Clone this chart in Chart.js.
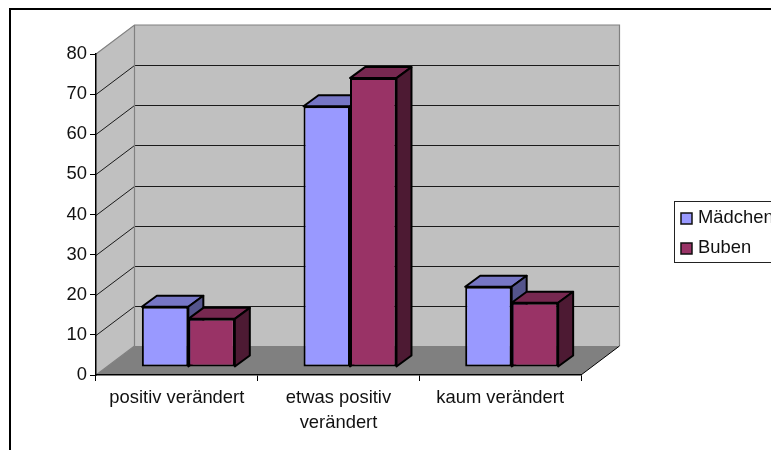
<!DOCTYPE html>
<html>
<head>
<meta charset="utf-8">
<title>Veränderung</title>
<script src="https://cdn.jsdelivr.net/npm/chart.js@4"></script>
<style>
  html, body { margin: 0; padding: 0; background: #fff; overflow: hidden; }
  canvas { display: block; }
</style>
</head>
<body>
<canvas id="myChart" width="771" height="450"></canvas>
<script>
const categories = ['positiv verändert', ['etwas positiv', 'verändert'], 'kaum verändert']
const maedchen = [15, 65, 20]
const buben = [12, 72, 16]
const yTicks = [0, 10, 20, 30, 40, 50, 60, 70, 80]

const FONT = '"Liberation Sans", Arial, sans-serif'
const FONT_SIZE = 18.4
const TEXT = '#111'

// versatz der rueckwand und der balkentiefe
const wall = { dx: 38.5, dy: 29 }
const barShift = { dx: 11.5, dy: 8 }
const barDepth = { dx: 15, dy: 11 }

const sideColors = [
    { top: '#7676c5', side: '#54548c' },
    { top: '#772850', side: '#4d1a33' }
]

// waende, boden und gitterlinien
const room = {
    id: 'room',
    beforeDraw(chart) {
        const { ctx, scales: { x, y } } = chart
        const left = x.left, right = x.right
        const top = y.getPixelForValue(80), bottom = y.getPixelForValue(0)

        ctx.save()
        ctx.strokeStyle = '#000'
        ctx.lineWidth = 2
        ctx.strokeRect(10, 9, 900, 600)

        ctx.fillStyle = '#c0c0c0'
        ctx.beginPath()
        ctx.moveTo(left, top)
        ctx.lineTo(left + wall.dx, top - wall.dy)
        ctx.lineTo(right + wall.dx, top - wall.dy)
        ctx.lineTo(right + wall.dx, bottom - wall.dy)
        ctx.lineTo(left + wall.dx, bottom - wall.dy)
        ctx.lineTo(left, bottom)
        ctx.closePath()
        ctx.fill()

        ctx.fillStyle = '#808080'
        ctx.beginPath()
        ctx.moveTo(left, bottom)
        ctx.lineTo(left + wall.dx, bottom - wall.dy)
        ctx.lineTo(right + wall.dx, bottom - wall.dy)
        ctx.lineTo(right, bottom)
        ctx.closePath()
        ctx.fill()

        // gitter
        ctx.lineWidth = 1
        ctx.strokeStyle = '#1a1a1a'
        yTicks.slice(1, -1).forEach(v => {
            const py = Math.round(y.getPixelForValue(v)) + 0.5
            ctx.beginPath()
            ctx.moveTo(left, py)
            ctx.lineTo(left + wall.dx, py - wall.dy)
            ctx.lineTo(right + wall.dx, py - wall.dy)
            ctx.stroke()
        })

        // kanten
        ctx.strokeStyle = '#808080'
        ctx.lineWidth = 1.2
        ctx.beginPath()
        ctx.moveTo(left, top)
        ctx.lineTo(left + wall.dx, top - wall.dy)
        ctx.lineTo(right + wall.dx, top - wall.dy)
        ctx.lineTo(right + wall.dx, bottom - wall.dy)
        ctx.moveTo(left + wall.dx, top - wall.dy)
        ctx.lineTo(left + wall.dx, bottom - wall.dy)
        ctx.lineTo(left, bottom)
        ctx.stroke()

        ctx.strokeStyle = '#000'
        ctx.lineWidth = 1
        ctx.beginPath()
        ctx.moveTo(right, bottom)
        ctx.lineTo(right + wall.dx, bottom - wall.dy)
        ctx.stroke()
        ctx.restore()
    }
}

// deckel und seite zuerst, von links nach rechts, damit die rechte
// saeule vor der linken liegt. Die frontflaeche zeichnet chart.js selbst
const bars3d = {
    id: 'bars3d',
    beforeDatasetsDraw(chart) {
        const { ctx } = chart
        ctx.save()
        ctx.translate(barShift.dx, -barShift.dy)
        ctx.strokeStyle = '#000'
        ctx.lineWidth = 2
        ctx.lineJoin = 'round'
        chart.data.datasets.forEach((ds, i) => {
            const colors = sideColors[i]
            chart.getDatasetMeta(i).data.forEach(bar => {
                const l = bar.x - bar.width / 2, r = bar.x + bar.width / 2
                const t = bar.y, b = bar.base

                ctx.fillStyle = colors.top
                ctx.beginPath()
                ctx.moveTo(l, t)
                ctx.lineTo(l + barDepth.dx, t - barDepth.dy)
                ctx.lineTo(r + barDepth.dx, t - barDepth.dy)
                ctx.lineTo(r, t)
                ctx.closePath()
                ctx.fill()
                ctx.stroke()

                ctx.fillStyle = colors.side
                ctx.beginPath()
                ctx.moveTo(r, t)
                ctx.lineTo(r + barDepth.dx, t - barDepth.dy)
                ctx.lineTo(r + barDepth.dx, b - barDepth.dy)
                ctx.lineTo(r, b)
                ctx.closePath()
                ctx.fill()
                ctx.stroke()
            })
        })
        ctx.restore()
    },
    beforeDatasetDraw(chart) {
        chart.ctx.save()
        chart.ctx.translate(barShift.dx, -barShift.dy)
    },
    afterDatasetDraw(chart) {
        chart.ctx.restore()
    }
}

// legende rechts, der rahmen laeuft ueber den rand hinaus
const legendBox = {
    id: 'legendBox',
    afterDraw(chart) {
        const { ctx } = chart
        const rows = [218, 248]
        ctx.save()
        ctx.strokeStyle = '#222'
        ctx.lineWidth = 1
        ctx.strokeRect(674.5, 201.5, 200, 61)
        ctx.font = FONT_SIZE + 'px ' + FONT
        ctx.textBaseline = 'middle'
        chart.data.datasets.forEach((ds, i) => {
            ctx.fillStyle = ds.backgroundColor
            ctx.fillRect(681, rows[i] - 5, 11, 11)
            ctx.strokeStyle = '#111'
            ctx.lineWidth = 1.5
            ctx.strokeRect(681, rows[i] - 5, 11, 11)
            ctx.fillStyle = TEXT
            ctx.fillText(ds.label, 698, rows[i])
        })
        ctx.restore()
    }
}

const ctx = document.getElementById('myChart')

new Chart(ctx, {
    type: 'bar',
    data: {
        labels: categories,
        datasets: [{
            label: 'Mädchen',
            data: maedchen,
            backgroundColor: '#9999ff'
        }, {
            label: 'Buben',
            data: buben,
            backgroundColor: '#993366'
        }]
    },
    plugins: [room, bars3d, legendBox],
    options: {
        responsive: false,
        animation: false,
        categoryPercentage: 0.575,
        barPercentage: 1,
        borderColor: '#000',
        borderWidth: 2,
        borderSkipped: false,
        clip: false,
        layout: { padding: { left: 10, top: 54, right: 190, bottom: 10 } },
        plugins: { legend: { display: false }, tooltip: { enabled: false } },
        scales: {
            x: {
                afterFit: s => { s.height = 65 },
                grid: { drawOnChartArea: false, tickLength: 6, tickColor: '#000', offset: true },
                border: { color: '#000', width: 1.5 },
                ticks: {
                    color: TEXT,
                    maxRotation: 0,
                    padding: 4,
                    font: { family: FONT, size: FONT_SIZE, lineHeight: 1.37 }
                }
            },
            y: {
                min: 0,
                max: 80,
                afterFit: s => { s.width = 86 },
                afterBuildTicks: s => { s.ticks = yTicks.map(value => ({ value })) },
                grid: { drawOnChartArea: false, tickLength: 6, tickColor: '#000' },
                border: { color: '#000', width: 1.5 },
                ticks: {
                    color: TEXT,
                    padding: 3,
                    font: { family: FONT, size: FONT_SIZE }
                }
            }
        }
    }
})
</script>
</body>
</html>
